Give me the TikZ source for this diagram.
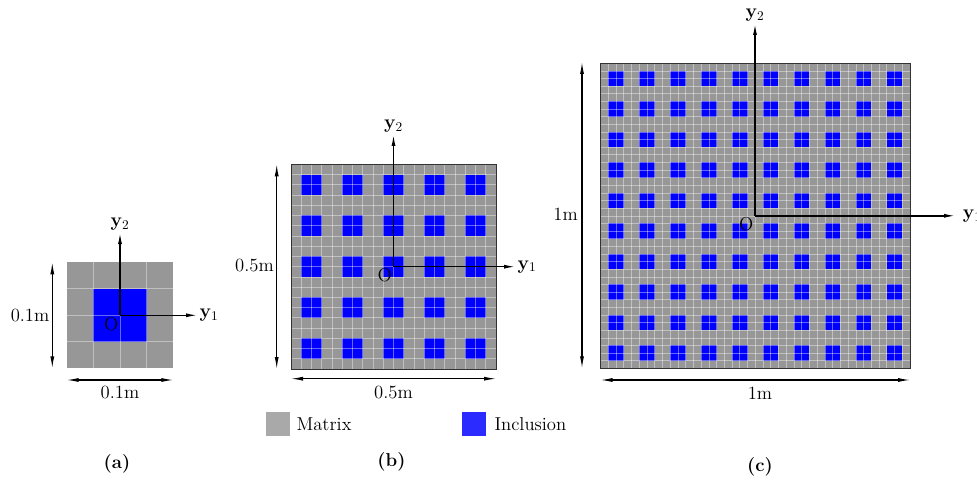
\documentclass[tikz,border=0pt]{standalone}
\usetikzlibrary{arrows.meta}
\definecolor{matgray}{HTML}{979797}
\definecolor{incblue}{HTML}{0000FF}
\definecolor{leggray}{HTML}{A9A9A9}
\definecolor{legblue}{HTML}{2B2BFF}
\begin{document}
\begin{tikzpicture}[x=0.75pt,y=-0.75pt,font=\fontsize{14}{17}\selectfont,
  axis/.style={line width=1.1pt,-{Latex[length=9pt,width=3pt]}},
  dimline/.style={line width=0.8pt,{Latex[length=9pt,width=3pt]}-{Latex[length=9pt,width=3pt]}},
  cellline/.style={white,opacity=0.4,line width=0.5pt},
  frameline/.style={black!80,line width=0.6pt}]
\useasboundingbox (0,0) rectangle (977,481);
% (a) one unit cell
\begin{scope}[shift={(66.7,262.3)},x=19.99pt,y=-19.875pt]
\fill[matgray] (0,0) rectangle (4,4);
\fill[incblue] (1,1) rectangle (3,3);
\foreach \k in {1,...,3}{%
  \draw[cellline] (\k,0) -- (\k,4);
  \draw[cellline] (0,\k) -- (4,\k);
}
\end{scope}
% (b) 5 x 5 cells
\begin{scope}[shift={(291,164.3)},x=7.69pt,y=-7.676pt]
\fill[matgray] (0,0) rectangle (20,20);
\foreach \i in {0,...,4}
  \foreach \j in {0,...,4}
    \fill[incblue] (4*\i+1,4*\j+1) rectangle ++(2,2);
\foreach \k in {1,...,19}{%
  \draw[cellline] (\k,0) -- (\k,20);
  \draw[cellline] (0,\k) -- (20,\k);
}
\draw[frameline] (0,0) rectangle (20,20);
\end{scope}
% (c) 10 x 10 cells
\begin{scope}[shift={(600.5,63.3)},x=5.803pt,y=-5.72pt]
\fill[matgray] (0,0) rectangle (40,40);
\foreach \i in {0,...,9}
  \foreach \j in {0,...,9}
    \fill[incblue] (4*\i+1,4*\j+1) rectangle ++(2,2);
\foreach \k in {1,...,39}{%
  \draw[cellline] (\k,0) -- (\k,40);
  \draw[cellline] (0,\k) -- (40,\k);
}
\draw[frameline] (0,0) rectangle (40,40);
\end{scope}

% axes
\coordinate (oa) at (120,315.3);
\coordinate (ob) at (393.5,266.7);
\coordinate (oc) at (755,215.8);
\node[anchor=south,inner sep=1pt] (ya2) at (120,232) {$\mathbf{y}_2$};
\node[anchor=west,inner sep=1pt] (ya1) at (198,315.3) {$\mathbf{y}_1$};
\node[anchor=south,inner sep=1pt] (yb2) at (393.5,134) {$\mathbf{y}_2$};
\node[anchor=west,inner sep=1pt] (yb1) at (516,266.7) {$\mathbf{y}_1$};
\node[anchor=south,inner sep=1pt] (yc2) at (755,23) {$\mathbf{y}_2$};
\node[anchor=west,inner sep=5pt] (yc1) at (956,215.8) {$\mathbf{y}_1$};
\draw[axis] (oa) -- (ya2.south);
\draw[axis] (oa) -- (ya1.west);
\draw[axis] (ob) -- (yb2.south);
\draw[axis] (ob) -- (yb1.west);
\draw[axis] (oc) -- (yc2.south);
\draw[axis] (oc) -- (yc1.west);
\node[anchor=north east,inner sep=1pt] (Oa) at (oa) {O};
\node[anchor=north east,inner sep=1pt] (Ob) at (ob) {O};
\node[anchor=north east,inner sep=1pt] (Oc) at (oc) {O};

% dimensions
\coordinate (da1) at (52.3,262.3);
\coordinate (da2) at (52.3,368.3);
\coordinate (da3) at (66.7,380);
\coordinate (da4) at (173.3,380);
\draw[dimline] (da1) -- (da2);
\draw[dimline] (da3) -- (da4);
\node[anchor=east,inner sep=2pt] (lva) at (52.3,315) {0.1m};
\node (lha) at (120,392) {0.1m};
\coordinate (db1) at (276.7,164.3);
\coordinate (db2) at (276.7,369);
\coordinate (db3) at (291,378.7);
\coordinate (db4) at (496,378.7);
\draw[dimline] (db1) -- (db2);
\draw[dimline] (db3) -- (db4);
\node[anchor=east,inner sep=2pt] (lvb) at (276.7,265) {0.5m};
\node (lhb) at (393.5,392.5) {0.5m};
\coordinate (dc1) at (582,62);
\coordinate (dc2) at (582,368.3);
\coordinate (dc3) at (600.5,380);
\coordinate (dc4) at (910,380);
\draw[dimline] (dc1) -- (dc2);
\draw[dimline] (dc3) -- (dc4);
\node[anchor=east,inner sep=3pt] (lvc) at (582,214) {1m};
\node (lhc) at (760,393) {1m};

% legend
\node[fill=leggray,minimum size=18pt,inner sep=0pt] (keymat) at (278,424) {};
\node[anchor=west,inner sep=1pt] (txtmat) at (295,424.5) {Matrix};
\node[fill=legblue,minimum size=18pt,inner sep=0pt] (keyinc) at (474,424) {};
\node[anchor=west,inner sep=1pt] (txtinc) at (493,424.5) {Inclusion};

% captions
\node (capa) at (117,464) {\textbf{(a)}};
\node (capb) at (391.5,462) {\textbf{(b)}};
\node (capc) at (760,467) {\textbf{(c)}};
\end{tikzpicture}
\end{document}
